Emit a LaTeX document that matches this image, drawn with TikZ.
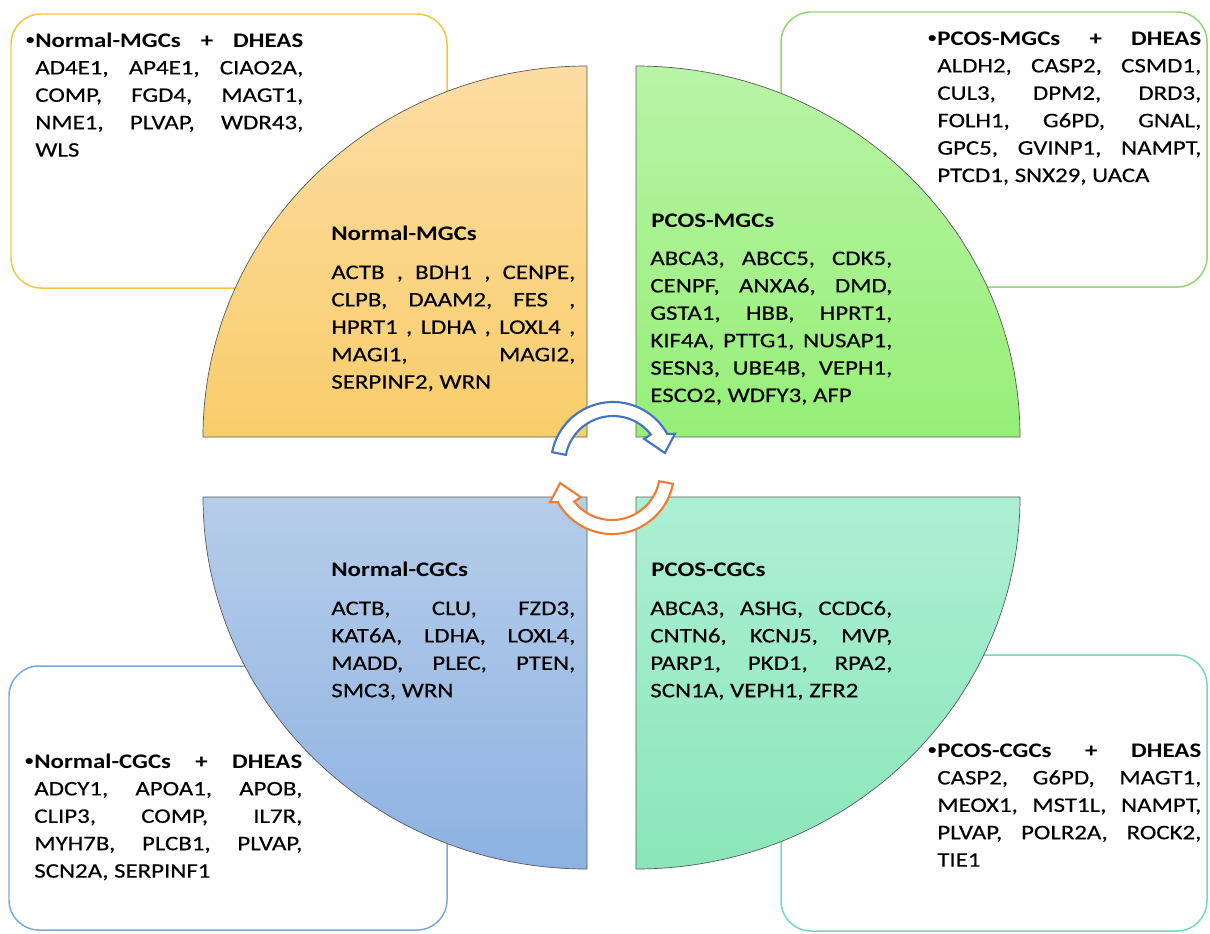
\documentclass[tikz,border=0pt]{standalone}
\usepackage{fontspec}
\setmainfont{Carlito}[FakeStretch=1.2, UprightFeatures={FakeBold=0.25}]
\usepackage{xcolor}
\usetikzlibrary{calc}

\definecolor{boxorange}{HTML}{F6C445}
\definecolor{boxgreen}{HTML}{92D572}
\definecolor{boxblue}{HTML}{79A9DA}
\definecolor{boxteal}{HTML}{72DDB3}
\definecolor{tlTop}{HTML}{FDDDA3}
\definecolor{tlBot}{HTML}{F8CD6B}
\definecolor{trTop}{HTML}{B8F4A6}
\definecolor{trBot}{HTML}{96EF77}
\definecolor{blTop}{HTML}{B6CDEA}
\definecolor{blBot}{HTML}{8DB2E1}
\definecolor{brTop}{HTML}{ADEFD3}
\definecolor{brBot}{HTML}{8AE6B9}
\definecolor{arrowblue}{HTML}{4472C4}
\definecolor{arroworange}{HTML}{ED7D31}

\newcommand\genefont{\fontsize{11.8}{15.6}\selectfont}
\newcommand\headbullet{\makebox[0pt][r]{\raisebox{0.12em}{\fontsize{8}{8}\selectfont•}\hspace{0.5pt}}}

\begin{document}
\begin{tikzpicture}[
    x=0.02cm, y=-0.02cm,
    genebox/.style={line width=0.85pt, rounded corners=0.6cm},
    sector/.style={draw=black!65, line width=0.4pt},
    genes/.style={anchor=base west, inner sep=0pt, align=justify, font=\genefont},
    grouptitle/.style={anchor=base west, inner sep=0pt, font=\genefont\bfseries},
    cyclearrow/.style={fill=white, line width=1.2pt, line join=miter},
]
\useasboundingbox (0,0) rectangle (1210,933);

% DHEAS boxes
\draw[genebox, draw=boxorange] (11,14) rectangle (447,288);
\draw[genebox, draw=boxgreen] (781,12) rectangle (1207,287);
\draw[genebox, draw=boxblue] (9,666) rectangle (447,930);
\draw[genebox, draw=boxteal] (781,655) rectangle (1207,931);

% quarter circles
\draw[sector, top color=tlTop, bottom color=tlBot] (587,437) -- (203,437)
    arc[start angle=180, end angle=270, x radius=384, y radius=371] -- cycle;
\draw[sector, top color=trTop, bottom color=trBot] (636,437) -- (636,66)
    arc[start angle=270, end angle=360, x radius=384, y radius=371] -- cycle;
\draw[sector, top color=blTop, bottom color=blBot] (587,497) -- (587,869)
    arc[start angle=90, end angle=180, x radius=384, y radius=372] -- cycle;
\draw[sector, top color=brTop, bottom color=brBot] (636,497) -- (1020,497)
    arc[start angle=0, end angle=90, x radius=384, y radius=372] -- cycle;

% cycle arrows
\coordinate (bc) at (613,464);
\coordinate (oc) at (612,472);
\draw[cyclearrow, draw=arrowblue] ($(bc)+(191:62)$)
    arc[start angle=191, end angle=331, radius=62]
    -- ($(bc)+(334:69)$) -- ($(bc)+(348:53)$) -- ($(bc)+(321:40)$) -- ($(bc)+(322:48)$)
    arc[start angle=322, end angle=191, radius=48] -- cycle;
\draw[cyclearrow, draw=arroworange] ($(oc)+(11:62)$)
    arc[start angle=11, end angle=151, radius=62]
    -- ($(oc)+(154:69)$) -- ($(oc)+(168:53)$) -- ($(oc)+(141:40)$) -- ($(oc)+(142:48)$)
    arc[start angle=142, end angle=11, radius=48] -- cycle;

% Normal-MGCs
\node[grouptitle] (nmgc) at (331,240) {Normal-MGCs};
\node[genes, text width=4.88cm] (nmgcgenes) at (331,279) {ACTB \hfill, \hfill BDH1 \hfill, \hfill CENPE,\\
CLPB, \hfill DAAM2, \hfill FES \hfill,\\
HPRT1 \hfill, \hfill LDHA \hfill, \hfill LOXL4 \hfill,\\
MAGI1, \hfill MAGI2,\\
SERPINF2, WRN};

% PCOS-MGCs
\node[grouptitle] (pmgc) at (651,227) {PCOS-MGCs};
\node[genes, text width=4.84cm] (pmgcgenes) at (650,265) {ABCA3, \hfill ABCC5, \hfill CDK5,\\
CENPF, \hfill ANXA6, \hfill DMD,\\
GSTA1, \hfill HBB, \hfill HPRT1,\\
KIF4A, \hfill PTTG1, \hfill NUSAP1,\\
SESN3, \hfill UBE4B, \hfill VEPH1,\\
ESCO2, WDFY3, AFP};

% Normal-CGCs
\node[grouptitle] (ncgc) at (331,576) {Normal-CGCs};
\node[genes, text width=4.88cm] (ncgcgenes) at (331,615) {ACTB, \hfill CLU, \hfill FZD3,\\
KAT6A, \hfill LDHA, \hfill LOXL4,\\
MADD, \hfill PLEC, \hfill PTEN,\\
SMC3, WRN};

% PCOS-CGCs
\node[grouptitle] (pcgc) at (651,576) {PCOS-CGCs};
\node[genes, text width=4.84cm] (pcgcgenes) at (650,615) {ABCA3, \hfill ASHG, \hfill CCDC6,\\
CNTN6, \hfill KCNJ5, \hfill MVP,\\
PARP1, \hfill PKD1, \hfill RPA2,\\
SCN1A, VEPH1, ZFR2};

% + DHEAS lists
\node[genes, text width=5.36cm] (nmgcdheas) at (35,47) {\textbf{\headbullet Normal-MGCs \hfill + \hfill DHEAS}\\
AD4E1, \hfill AP4E1, \hfill CIAO2A,\\
COMP, \hfill FGD4, \hfill MAGT1,\\
NME1, \hfill PLVAP, \hfill WDR43,\\
WLS};
\node[genes, text width=5.28cm] (pmgcdheas) at (937,45) {\textbf{\headbullet PCOS-MGCs \hfill + \hfill DHEAS}\\
ALDH2, \hfill CASP2, \hfill CSMD1,\\
CUL3, \hfill DPM2, \hfill DRD3,\\
FOLH1, \hfill G6PD, \hfill GNAL,\\
GPC5, \hfill GVINP1, \hfill NAMPT,\\
PTCD1, SNX29, UACA};
\node[genes, text width=5.36cm] (ncgcdheas) at (34,768) {\textbf{\headbullet Normal-CGCs \hfill + \hfill DHEAS}\\
ADCY1, \hfill APOA1, \hfill APOB,\\
CLIP3, \hfill COMP, \hfill IL7R,\\
MYH7B, \hfill PLCB1, \hfill PLVAP,\\
SCN2A, SERPINF1};
\node[genes, text width=5.28cm] (pcgcdheas) at (937,757) {\textbf{\headbullet PCOS-CGCs \hfill + \hfill DHEAS}\\
CASP2, \hfill G6PD, \hfill MAGT1,\\
MEOX1, \hfill MST1L, \hfill NAMPT,\\
PLVAP, \hfill POLR2A, \hfill ROCK2,\\
TIE1};

\end{tikzpicture}
\end{document}
